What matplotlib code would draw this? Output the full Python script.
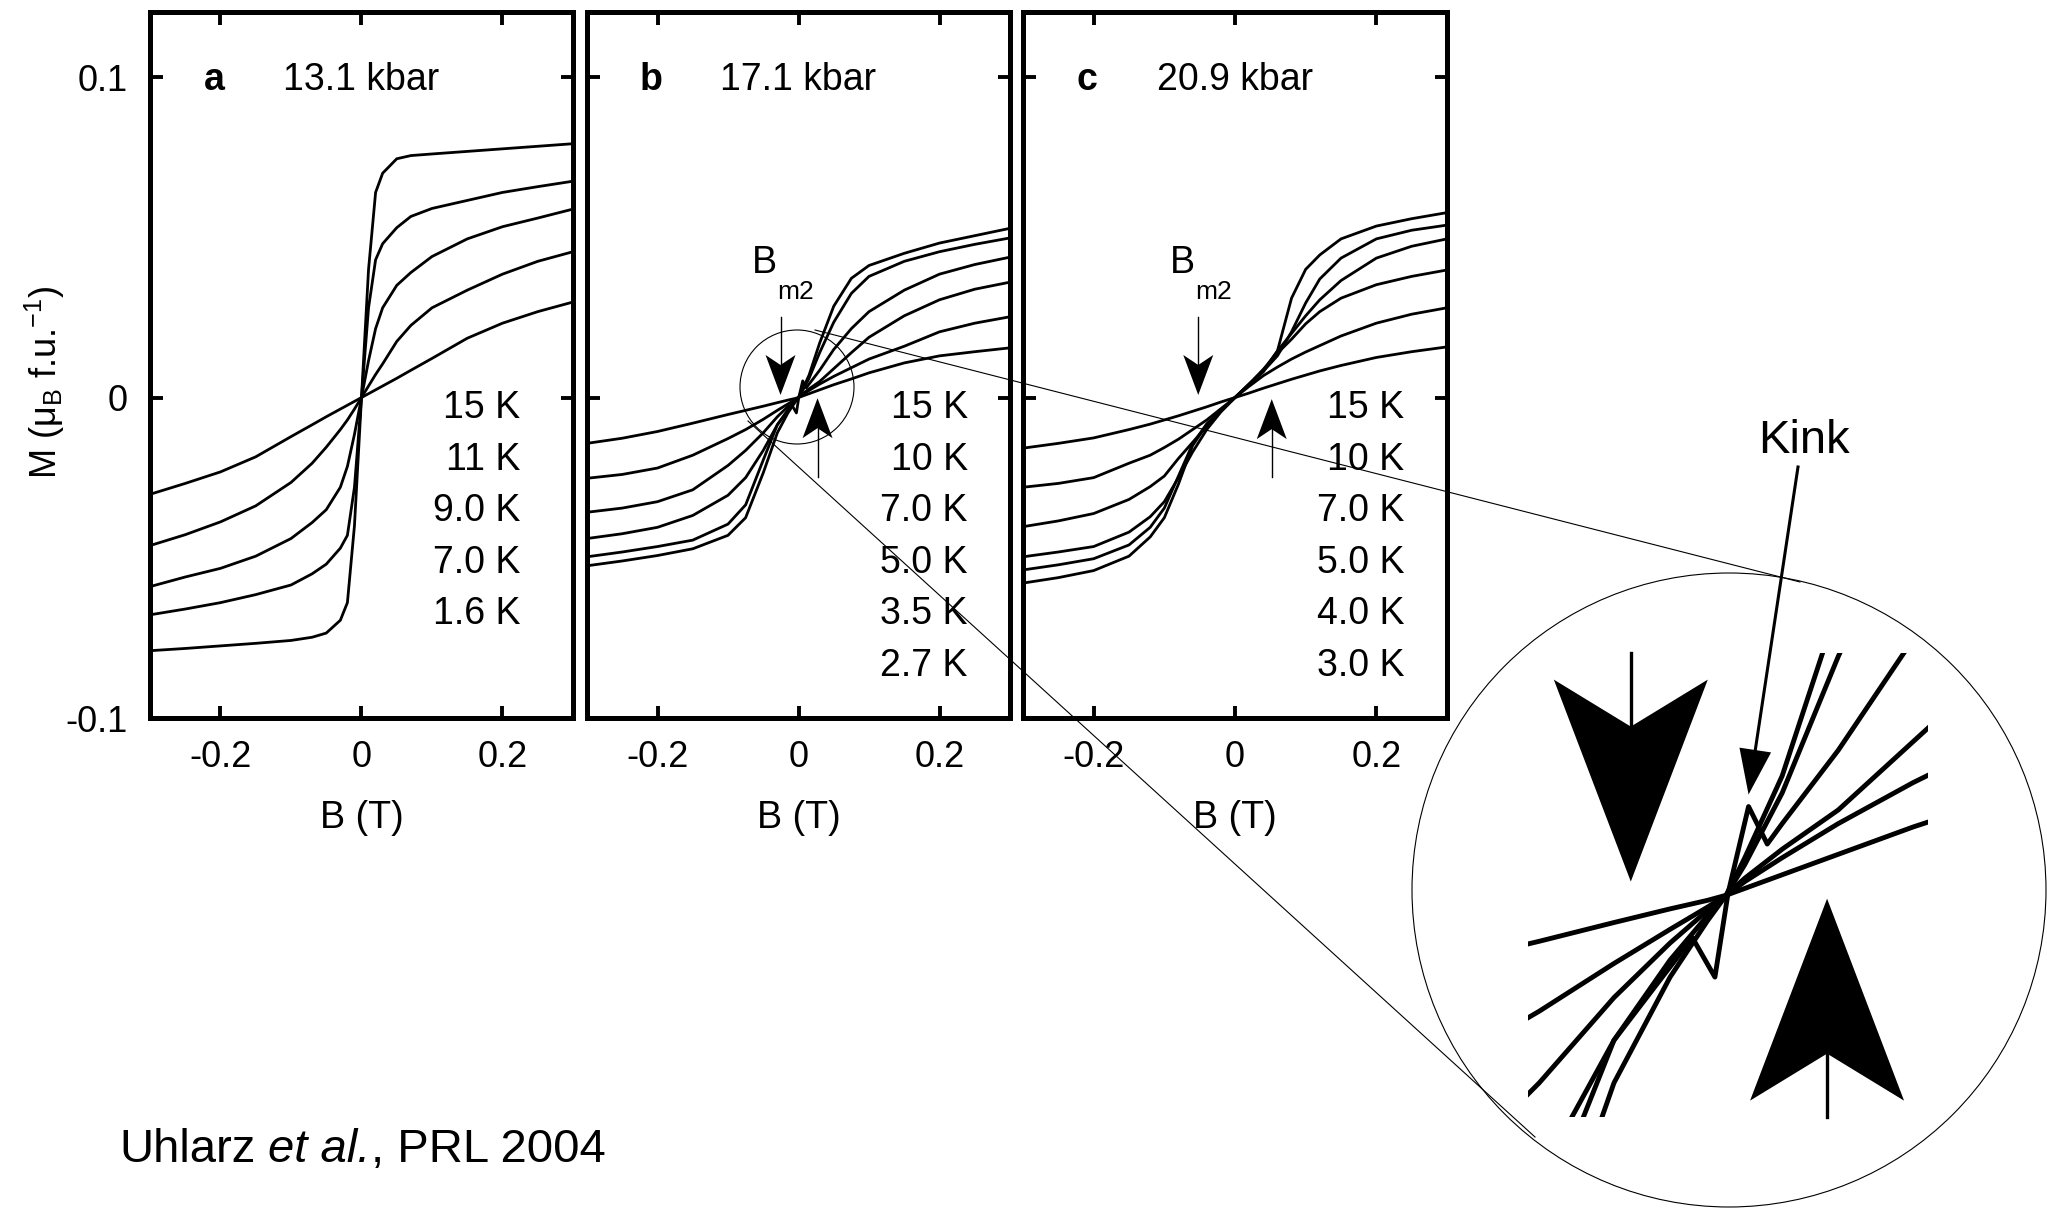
import numpy as np
import matplotlib
matplotlib.use('Agg')
import matplotlib.pyplot as plt
from matplotlib.patches import Circle, Polygon
from matplotlib.lines import Line2D
from matplotlib.transforms import IdentityTransform

plt.rcParams['font.family'] = ['Liberation Sans', 'DejaVu Sans']
plt.rcParams['mathtext.fontset'] = 'custom'
plt.rcParams['mathtext.rm'] = 'Liberation Sans'
plt.rcParams['mathtext.it'] = 'Liberation Sans:italic'
plt.rcParams['mathtext.bf'] = 'Liberation Sans:bold'

W, H = 2047, 1210

# ---- panel a: 13.1 kbar ----
a_B = [-0.3, -0.25, -0.2, -0.15, -0.1, -0.07, -0.05, -0.03, -0.02, -0.01, 0,
       0.01, 0.02, 0.03, 0.05, 0.07, 0.1, 0.15, 0.2, 0.25, 0.3]
a_M_15K = [-0.0302, -0.0268, -0.0232, -0.0185, -0.0122, -0.0085, -0.0060, -0.0036, -0.0024, -0.0012, 0,
           0.0012, 0.0024, 0.0036, 0.0060, 0.0085, 0.0122, 0.0185, 0.0232, 0.0268, 0.0298]
a_M_11K = [-0.0462, -0.0428, -0.0388, -0.0338, -0.0265, -0.0205, -0.0155, -0.0100, -0.0070, -0.0036, 0,
           0.0036, 0.0072, 0.0105, 0.0175, 0.0225, 0.0280, 0.0335, 0.0385, 0.0425, 0.0455]
a_M_9K = [-0.0590, -0.0560, -0.0533, -0.0495, -0.0440, -0.0390, -0.0350, -0.0280, -0.0215, -0.0115, 0,
          0.0115, 0.0215, 0.0280, 0.0350, 0.0390, 0.0440, 0.0495, 0.0533, 0.0560, 0.0588]
a_M_7K = [-0.0678, -0.0660, -0.0640, -0.0615, -0.0585, -0.0550, -0.0520, -0.0470, -0.0430, -0.0280, 0,
          0.0280, 0.0430, 0.0480, 0.0530, 0.0565, 0.0590, 0.0615, 0.0640, 0.0658, 0.0675]
a_M_1_6K = [-0.0790, -0.0783, -0.0775, -0.0767, -0.0758, -0.0748, -0.0735, -0.0695, -0.0640, -0.0400, 0,
            0.0400, 0.0640, 0.0700, 0.0745, 0.0755, 0.0760, 0.0768, 0.0776, 0.0784, 0.0792]
a_labels = ['15 K', '11 K', '9.0 K', '7.0 K', '1.6 K']

# ---- panel b: 17.1 kbar ----
b_B = [-0.3, -0.25, -0.2, -0.15, -0.1, -0.075, -0.05, -0.03, -0.015, -0.005, 0,
       0.005, 0.015, 0.03, 0.05, 0.075, 0.1, 0.15, 0.2, 0.25, 0.3]
b_M_15K = [-0.0143, -0.0127, -0.0106, -0.0080, -0.0053, -0.0040, -0.0027, -0.0016, -0.0008, -0.0003, 0,
           0.0004, 0.0012, 0.0024, 0.0040, 0.0058, 0.0077, 0.0108, 0.0130, 0.0143, 0.0155]
b_M_10K = [-0.0252, -0.0240, -0.0220, -0.0180, -0.0128, -0.0100, -0.0068, -0.0040, -0.0020, -0.0007, 0,
           0.0008, 0.0022, 0.0042, 0.0066, 0.0093, 0.0120, 0.0160, 0.0205, 0.0232, 0.0252]
b_M_7K = [-0.0358, -0.0345, -0.0325, -0.0288, -0.0212, -0.0165, -0.0110, -0.0060, -0.0028, -0.0009, 0,
          0.0010, 0.0027, 0.0050, 0.0090, 0.0140, 0.0188, 0.0255, 0.0305, 0.0338, 0.0360]
# the 5.0 K sweep carries the kink near B = 0
b_B_5K = [-0.3, -0.25, -0.2, -0.15, -0.1, -0.075, -0.05, -0.03, -0.015, -0.009, -0.003,
          0.0005, 0.006, 0.011, 0.015, 0.03, 0.05, 0.075, 0.1, 0.15, 0.2, 0.25, 0.3]
b_M_5K = [-0.0440, -0.0425, -0.0405, -0.0368, -0.0305, -0.0250, -0.0165, -0.0085, -0.0042, -0.0025, -0.0048,
          0.0001, 0.0052, 0.0030, 0.0042, 0.0085, 0.0150, 0.0215, 0.0268, 0.0335, 0.0385, 0.0415, 0.0438]
b_M_3_5K = [-0.0497, -0.0482, -0.0465, -0.0445, -0.0395, -0.0335, -0.0195, -0.0085, -0.0038, -0.0012, 0,
            0.0018, 0.0060, 0.0140, 0.0235, 0.0325, 0.0378, 0.0425, 0.0455, 0.0478, 0.0498]
b_M_2_7K = [-0.0525, -0.0510, -0.0493, -0.0472, -0.0430, -0.0375, -0.0235, -0.0110, -0.0048, -0.0015, 0,
            0.0022, 0.0070, 0.0170, 0.0285, 0.0372, 0.0412, 0.0450, 0.0482, 0.0505, 0.0528]
b_labels = ['15 K', '10 K', '7.0 K', '5.0 K', '3.5 K', '2.7 K']

# ---- panel c: 20.9 kbar ----
c_B = [-0.3, -0.25, -0.2, -0.15, -0.12, -0.1, -0.08, -0.06, -0.04, -0.02, 0,
       0.02, 0.04, 0.06, 0.08, 0.1, 0.12, 0.15, 0.2, 0.25, 0.3]
c_M_15K = [-0.0158, -0.0143, -0.0126, -0.0100, -0.0083, -0.0070, -0.0057, -0.0043, -0.0029, -0.0014, 0,
           0.0014, 0.0029, 0.0043, 0.0057, 0.0070, 0.0083, 0.0100, 0.0125, 0.0143, 0.0158]
c_M_10K = [-0.0280, -0.0268, -0.0250, -0.0205, -0.0180, -0.0156, -0.0130, -0.0100, -0.0070, -0.0035, 0,
           0.0035, 0.0068, 0.0095, 0.0120, 0.0142, 0.0162, 0.0192, 0.0232, 0.0260, 0.0280]
c_M_7K = [-0.0403, -0.0385, -0.0362, -0.0318, -0.0278, -0.0245, -0.0190, -0.0140, -0.0090, -0.0043, 0,
          0.0042, 0.0088, 0.0138, 0.0182, 0.0230, 0.0268, 0.0310, 0.0352, 0.0378, 0.0398]
c_M_5K = [-0.0497, -0.0482, -0.0465, -0.0420, -0.0372, -0.0325, -0.0250, -0.0170, -0.0100, -0.0045, 0,
          0.0042, 0.0080, 0.0145, 0.0200, 0.0255, 0.0305, 0.0365, 0.0435, 0.0472, 0.0495]
c_M_4K = [-0.0538, -0.0522, -0.0503, -0.0460, -0.0405, -0.0345, -0.0245, -0.0145, -0.0082, -0.0040, 0,
          0.0040, 0.0082, 0.0130, 0.0205, 0.0295, 0.0370, 0.0435, 0.0495, 0.0522, 0.0538]
c_M_3K = [-0.0579, -0.0562, -0.0540, -0.0495, -0.0435, -0.0375, -0.0270, -0.0150, -0.0085, -0.0042, 0,
          0.0042, 0.0085, 0.0145, 0.0310, 0.0400, 0.0445, 0.0495, 0.0535, 0.0558, 0.0577]
c_labels = ['15 K', '10 K', '7.0 K', '5.0 K', '4.0 K', '3.0 K']

pressures = ['13.1 kbar', '17.1 kbar', '20.9 kbar']
letters = ['a', 'b', 'c']

# B_m2 arrows: (x, tail y, tip y)
b_arrows = [(-0.0255, 0.025, 0.0008), (0.027, -0.0248, -0.0002)]
c_arrows = [(-0.052, 0.025, 0.0008), (0.052, -0.0248, -0.0005)]

panels = [
    ([(a_B, m) for m in [a_M_15K, a_M_11K, a_M_9K, a_M_7K, a_M_1_6K]], a_labels, None, 0.225),
    ([(b_B, b_M_15K), (b_B, b_M_10K), (b_B, b_M_7K), (b_B_5K, b_M_5K),
      (b_B, b_M_3_5K), (b_B, b_M_2_7K)], b_labels, b_arrows, 0.24),
    ([(c_B, m) for m in [c_M_15K, c_M_10K, c_M_7K, c_M_5K, c_M_4K, c_M_3K]], c_labels, c_arrows, 0.24),
]


def rect(x0, x1, y0, y1):
    return [x0 / W, 1 - y1 / H, (x1 - x0) / W, (y1 - y0) / H]


def arrow(fig, tail, tip, length, halfw, notch, lw):
    # tail / tip in display pixels; notched filled head
    tail = np.array(tail, float)
    tip = np.array(tip, float)
    d = (tip - tail) / np.hypot(*(tip - tail))
    n = np.array([-d[1], d[0]])
    base = tip - d * length
    back = tip - d * notch
    fig.add_artist(Line2D([tail[0], back[0]], [tail[1], back[1]], color='black', lw=lw,
                          transform=IdentityTransform()))
    fig.add_artist(Polygon([tip, base + n * halfw, back, base - n * halfw], closed=True,
                           facecolor='black', edgecolor='none', transform=IdentityTransform()))


fig = plt.figure(figsize=(W / 100, H / 100), dpi=100)

panel_x = [(150, 573), (587, 1010), (1023, 1447)]
axes = []
for i, ((x0, x1), (curves, labels, arrows, xr)) in enumerate(zip(panel_x, panels)):
    ax = fig.add_axes(rect(x0, x1, 12, 718))
    axes.append(ax)
    ax.set_xlim(-0.3, 0.3)
    ax.set_ylim(-0.1, 0.1203)
    for s in ax.spines.values():
        s.set_linewidth(3.6)
    ax.set_xticks([-0.2, 0, 0.2])
    ax.set_xticklabels(['-0.2', '0', '0.2'])
    ax.set_yticks([-0.1, 0, 0.1])
    ax.set_yticklabels(['-0.1', '0', '0.1'] if i == 0 else [])
    ax.tick_params(direction='in', length=9, width=2.8, top=True, right=True,
                   labelsize=26, pad=16)
    for bb, mm in curves:
        ax.plot(bb, mm, color='black', lw=2.0)
    for k, lab in enumerate(labels):
        ax.text(xr, -0.0033 - 0.0161 * k, lab, ha='right', va='center', fontsize=27)
    ax.text(-0.209, 0.099, letters[i], ha='center', va='center', fontsize=27, fontweight='bold')
    ax.text(-0.111, 0.099, pressures[i], ha='left', va='center', fontsize=27)
    fig.text((x0 + x1) / 2 / W, 1 - 818 / H, 'B (T)', ha='center', va='center', fontsize=27)
    if arrows is not None:
        xb = arrows[0][0] - 0.04
        ax.text(xb, 0.042, 'B', ha='left', va='center', fontsize=27)
        ax.text(xb + 0.0355, 0.0329, 'm2', ha='left', va='center', fontsize=19)
        for x, yt, yh in arrows:
            arrow(fig, ax.transData.transform((x, yt)), ax.transData.transform((x, yh)),
                  40, 15, 30, 1.0)

fig.text(45 / W, 1 - 382 / H, r'M (μ$_{\rm B}$ f.u.$^{-1}$)', rotation=90,
         ha='center', va='center', fontsize=26)

# magnified view of the crossing region of panel b
ax_in = fig.add_axes(rect(1528, 1928, 653, 1117))
ax_in.set_xlim(-0.053, 0.054)
ax_in.set_ylim(-0.013, 0.0142)
ax_in.set_axis_off()
for bb, mm in panels[1][0]:
    ax_in.plot(bb, mm, color='black', lw=3.5)
for x, yt, yh in b_arrows:
    tail_y = 0.0142 if yt > 0 else -0.013
    arrow(fig, ax_in.transData.transform((x, tail_y)), ax_in.transData.transform((x, yh)),
          202, 77, 155, 2.4)

# circles and connecting tangents
fig.add_artist(Circle((797, H - 387), 57, fill=False, lw=0.8, color='black',
                      transform=IdentityTransform()))
fig.add_artist(Circle((1729, H - 890), 317, fill=False, lw=0.8, color='black',
                      transform=IdentityTransform()))
fig.add_artist(Line2D([815, 1800], [H - 330, H - 582], color='black', lw=0.8,
                      transform=IdentityTransform()))
fig.add_artist(Line2D([748, 1535], [H - 421, H - 1137], color='black', lw=0.8,
                      transform=IdentityTransform()))

# kink pointer
kink_tip = ax_in.transData.transform((b_B_5K[12], b_M_5K[12])) + np.array([0, 12])
arrow(fig, (1798, H - 467), kink_tip, 45, 16, 45, 2.2)
fig.text(1758 / W, 1 - 441 / H, 'Kink', ha='left', va='center', fontsize=34)

# citation, italic "et al." set between two upright pieces
renderer = fig.canvas.get_renderer()
cx, cy = 119, 1 - 1150 / H
t1 = fig.text(cx / W, cy, 'Uhlarz', ha='left', va='center', fontsize=34)
cx += t1.get_window_extent(renderer).width + 13
t2 = fig.text(cx / W, cy, 'et al.', ha='left', va='center', fontsize=34, style='italic')
cx += t2.get_window_extent(renderer).width
fig.text(cx / W, cy, ', PRL 2004', ha='left', va='center', fontsize=34)

fig.savefig('out.png', dpi=100)
